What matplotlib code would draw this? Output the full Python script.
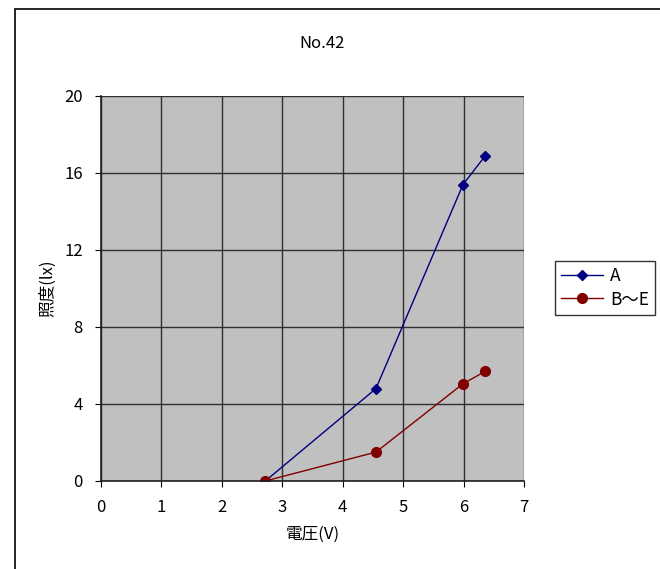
import matplotlib.pyplot as plt
from matplotlib.patches import Rectangle

plt.rcParams['font.family'] = ['Noto Sans CJK JP', 'DejaVu Sans']

# Data
volt_a = [2.72, 4.55, 5.99, 6.36]
lux_a = [0, 4.8, 15.4, 16.9]
volt_b = [2.72, 4.55, 5.99, 6.36]
lux_b = [0, 1.5, 5.05, 5.7]
x_ticks = [0, 1, 2, 3, 4, 5, 6, 7]
y_ticks = [0, 4, 8, 12, 16, 20]

fig = plt.figure(figsize=(6.6, 5.69), dpi=100)

# Chart area border (left and top edges visible)
fig.patches.append(Rectangle((15 / 660, -0.1), 1.2, 1 - 9 / 569 + 0.1,
                             transform=fig.transFigure, fill=False,
                             edgecolor='black', linewidth=1.2))

ax = fig.add_axes([0.153, 0.1547, 0.641, 0.6766])
ax.set_facecolor('#c0c0c0')

ax.plot(volt_a, lux_a, color='#000080', marker='D', markersize=5,
        linewidth=1, label='A')
ax.plot(volt_b, lux_b, color='#800000', marker='o', markersize=7,
        linewidth=1, label='B～E')

ax.set_xlim(0, 7)
ax.set_ylim(0, 20)
ax.set_xticks(x_ticks)
ax.set_yticks(y_ticks)
ax.grid(True, color='#303030', linewidth=1)
ax.set_axisbelow(True)
for side in ['top', 'right']:
    ax.spines[side].set_visible(False)
for side in ['left', 'bottom']:
    ax.spines[side].set_color('#202020')
    ax.spines[side].set_linewidth(1.2)
ax.tick_params(labelsize=12, length=4, pad=9)

ax.set_xlabel('電圧(V)', fontsize=12, labelpad=7)
ax.set_ylabel('照度(lx)', fontsize=12, labelpad=6)
fig.text(0.5 * (0.153 + 0.794) + 0.015, 1 - 43 / 569, 'No.42', fontsize=12,
         ha='center', va='center')

fig.legend(loc='center left', bbox_to_anchor=(0.828, 0.494), fontsize=12.5,
           frameon=True, fancybox=False, edgecolor='black',
           handlelength=2.4, borderpad=0.35, labelspacing=0.3,
           handletextpad=0.4)

plt.savefig('out.png', dpi=100)
